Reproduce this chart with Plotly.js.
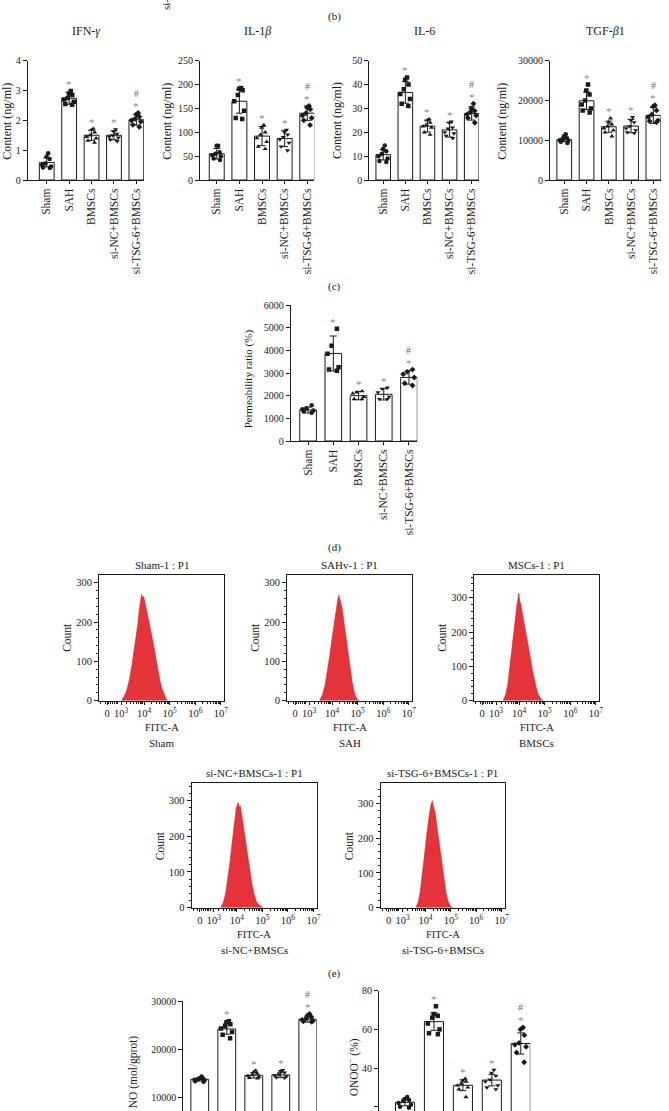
<!DOCTYPE html>
<html><head><meta charset="utf-8">
<script src="https://cdn.plot.ly/plotly-3.0.1.min.js"></script>
<style>html,body{margin:0;padding:0;background:#fff;} #chart{width:669px;height:1111px;}</style>
</head><body><div id="chart"></div>
<script>
// ---------------- DATA ----------------
const groups = ["Sham","SAH","BMSCs","si-NC+BMSCs","si-TSG-6+BMSCs"];
const sigStar = ["","*","*","*","*"];
const sigHash = ["","","","","#"];

// (c) cytokines
const ifnMean = [0.59, 2.74, 1.50, 1.50, 2.02];
const ifnSD   = [0.15, 0.20, 0.17, 0.15, 0.18];
const ifnPts  = [[0.90,0.78,0.70,0.55,0.50,0.45,0.42,0.40],
                 [2.98,2.90,2.85,2.75,2.70,2.62,2.55,2.52],
                 [1.72,1.68,1.60,1.50,1.45,1.40,1.32,1.25],
                 [1.70,1.62,1.55,1.50,1.45,1.42,1.35,1.30],
                 [2.25,2.20,2.12,2.05,2.00,1.95,1.85,1.78]];
const il1Mean = [55, 165, 92, 87, 140];
const il1SD   = [11, 25, 20, 17, 15];
const il1Pts  = [[72,72,58,55,52,50,45,42],
                 [193,191,188,178,165,145,130,128],
                 [115,110,100,95,88,80,70,65],
                 [105,100,95,90,85,78,70,62],
                 [155,152,148,140,135,130,125,115]];
const il6Mean = [10.6, 36.7, 22.6, 21.0, 27.9];
const il6SD   = [2.2, 4.5, 2.5, 3.0, 2.8];
const il6Pts  = [[14.5,13,12,11,10,9,8,7.5],
                 [43,42,40,38,36,34,32,31],
                 [25.5,25,24,23,22.5,22,20,19],
                 [24.5,24,22,21.5,20,19.5,18.5,17.5],
                 [32,30,29,28.5,27.5,27,26,24]];
const tgfMean = [10170, 19930, 13400, 13570, 16250];
const tgfSD   = [500, 2200, 1400, 1700, 2000];
const tgfPts  = [[11500,11000,10500,10200,10000,9800,9600,9300],
                 [24000,22500,21500,20000,19000,18000,17500,17000],
                 [15500,14500,14000,13500,13000,12500,12000,11000],
                 [15800,15000,14500,13500,13000,12500,12000,11800],
                 [18800,18500,17500,16500,15800,15000,14800,14500]];
// (d) permeability
const permMean = [1366, 3863, 2000, 2060, 2806];
const permSD   = [130, 770, 180, 250, 300];
const permPts  = [[1580,1450,1400,1350,1300,1250],
                  [4950,4200,3850,3250,3150,3100],
                  [2200,2150,2100,1950,1850,1850],
                  [2350,2300,2150,1950,1850,1850],
                  [3150,3050,2950,2800,2550,2450]];
// (f) NO / ONOO-
const noMean = [13800, 24220, 14640, 14700, 26230];
const noSD   = [350, 1100, 550, 550, 600];
const noPts  = [[14400,14000,13900,13800,13700,13600,13400,13300],
                [25800,25600,25200,24800,24300,23600,23000,22300],
                [15600,15300,15000,14700,14500,14300,14100,14000],
                [15700,15500,15200,14800,14600,14400,14200,14100],
                [27300,27000,26700,26400,26100,25900,25800,25700]];
const onooMean = [22.3, 64.0, 31.1, 33.8, 52.7];
const onooSD   = [1.8, 4.5, 2.8, 3.0, 5.5];
const onooPts  = [[25,24,23.5,23,22,21,20,19.5],
                  [72,68,67,66,63,60,58,57.5],
                  [34.5,33.5,33,32,31,30,29,25],
                  [39,37.5,36,34,33,31,30,29],
                  [61,60,57,53,52,51,48,43]];

// (e) flow cytometry histograms (x = FITC-A decade position, y = count)
const shamX = [3.12,3.22,3.32,3.42,3.52,3.60,3.68,3.75,3.81,3.86,3.90,3.94,3.98,4.03,4.08,4.14,4.20,4.27,4.34,4.41,4.48,4.55,4.62,4.70,4.78,4.86,4.92];
const shamC = [2,10,26,52,88,122,158,192,230,258,270,262,265,250,234,216,198,178,156,128,100,74,50,30,15,5,0];
const sahX  = [3.52,3.62,3.72,3.82,3.91,3.99,4.06,4.12,4.17,4.22,4.26,4.29,4.33,4.38,4.44,4.50,4.57,4.64,4.71,4.78,4.85,4.92,5.00,5.06];
const sahC  = [2,14,38,74,115,155,190,215,238,256,268,262,252,238,210,180,146,110,78,48,26,10,3,0];
const mscX  = [3.38,3.47,3.56,3.64,3.72,3.79,3.86,3.91,3.95,3.99,4.02,4.06,4.10,4.15,4.20,4.26,4.32,4.38,4.45,4.52,4.60,4.68,4.76,4.85,4.95];
const mscC  = [2,16,48,95,145,195,242,276,300,313,290,282,265,245,220,200,182,155,120,88,58,34,16,5,0];
const sincX = [3.38,3.47,3.56,3.64,3.72,3.80,3.87,3.93,3.98,4.02,4.05,4.09,4.13,4.18,4.24,4.30,4.37,4.44,4.52,4.60,4.68,4.76,4.85,4.95,5.03];
const sincC = [2,14,38,75,120,170,218,256,280,288,294,280,285,264,234,200,165,128,92,62,36,18,8,3,0];
const sitsgX = [3.63,3.72,3.80,3.88,3.96,4.03,4.10,4.15,4.20,4.24,4.27,4.30,4.34,4.39,4.45,4.52,4.59,4.66,4.73,4.81,4.89,4.97,5.07];
const sitsgC = [2,16,48,94,145,195,238,270,290,300,307,295,286,268,234,194,154,112,74,42,18,6,0];
const fitcTickVals = [2.55, 3.1, 4, 5, 6, 7];
const fitcTickText = ["0","10<sup>3</sup>","10<sup>4</sup>","10<sup>5</sup>","10<sup>6</sup>","10<sup>7</sup>"];

// ---------------- DRAWING ----------------
const W = 669, H = 1111;
const px = x => x / W, py = y => 1 - y / H;
const FONT = "Liberation Serif, 'Times New Roman', serif";
const INK = "#1a1a1a";
const symbols = ["circle","square","triangle-up","triangle-down","diamond"];
const data = [];
const layout = {
  width: W, height: H, margin: {l:0, r:0, t:0, b:0}, showlegend: false,
  paper_bgcolor: "#fff", plot_bgcolor: "rgba(0,0,0,0)",
  font: {family: FONT, size: 10, color: INK},
  annotations: [], boxmode: "overlay"
};
let n = 0;
function ann(o){
  layout.annotations.push(Object.assign({showarrow:false, xanchor:"center", yanchor:"middle",
    font:{family:FONT, size:11, color:INK}}, o));
}

function barPanel(cfg, means, sds, pts){
  n++;
  const s = n === 1 ? "" : String(n);
  const xa = "x"+s, ya = "y"+s;
  data.push({type:"bar", x:groups, y:means, xaxis:xa, yaxis:ya, width:0.66,
    marker:{color:"#fff", line:{color:INK, width:1}},
    error_y:{type:"data", array:sds, color:INK, thickness:1, width:3.5}, hoverinfo:"skip"});
  pts.forEach((p,i) => {
    data.push({type:"box", x:p.map(() => groups[i]), y:p, xaxis:xa, yaxis:ya,
      boxpoints:"all", jitter:0.9, pointpos:0, width:0.6,
      fillcolor:"rgba(0,0,0,0)", line:{width:0, color:"rgba(0,0,0,0)"},
      marker:{symbol:symbols[i], size:4.5, color:INK}, hoverinfo:"skip"});
  });
  layout["xaxis"+s] = {domain:[px(cfg.x0), px(cfg.x1)], anchor:ya, type:"category", range:cfg.xr,
    showline:true, linecolor:INK, linewidth:1, ticks:"outside", ticklen:3, tickcolor:INK,
    tickangle:-90, tickfont:{size:11.5}, showgrid:false, zeroline:false, fixedrange:true,
    showticklabels: cfg.xlabels !== false};
  layout["yaxis"+s] = {domain:[py(cfg.bottom), py(cfg.top)], anchor:xa, range:cfg.yr,
    tick0:0, dtick:cfg.dtick, tickformat:"d", exponentformat:"none", separatethousands:false,
    showline:true, linecolor:INK, linewidth:1, ticks:"outside",
    ticklen:4, tickcolor:INK, showgrid:false, zeroline:false, tickfont:{size:10}, fixedrange:true};
  groups.forEach((g,i) => {
    const top = Math.max(means[i] + sds[i], Math.max(...pts[i]));
    if (sigStar[i]) ann({xref:xa, yref:ya, x:g, y:top, yanchor:"bottom", yshift:-1, text:sigStar[i], font:{family:FONT, size:11, color:"#8a8a8a"}});
    if (sigHash[i]) ann({xref:xa, yref:ya, x:g, y:top, yanchor:"bottom", yshift:12, text:sigHash[i], font:{family:FONT, size:10, color:"#666"}});
  });
  if (cfg.title) ann({xref:"paper", yref:"paper", x:px((cfg.x0+cfg.x1)/2), y:py(cfg.titleY), text:cfg.title, font:{family:FONT, size:12, color:INK}});
  ann({xref:"paper", yref:"paper", x:px(cfg.ytX), y:py(cfg.ytY), text:cfg.ytitle, textangle:-90, font:{family:FONT, size:cfg.ytSize || 12, color:INK}});
}

const minorX = [];
for (let d = 2; d < 7; d++) for (let k = 2; k < 10; k++) { const v = d + Math.log10(k); if (v > 2.24 && v < 7.13) minorX.push(v); }

function histPanel(cfg, xs, cs){
  n++;
  const s = String(n);
  const xa = "x"+s, ya = "y"+s;
  data.push({type:"scatter", mode:"lines", x:xs, y:cs, xaxis:xa, yaxis:ya, fill:"tozeroy",
    fillcolor:"rgb(228,52,58)", line:{color:"rgb(206,30,38)", width:0.6}, hoverinfo:"skip"});
  layout["xaxis"+s] = {domain:[px(cfg.x0), px(cfg.x1)], anchor:ya, range:[2.235, 7.137],
    tickmode:"array", tickvals:fitcTickVals, ticktext:fitcTickText, tickangle:0,
    showline:true, mirror:true, linecolor:INK, linewidth:1, ticks:"outside", ticklen:3, tickcolor:INK,
    minor:{tickmode:"array", tickvals:minorX, ticks:"outside", ticklen:2, tickcolor:INK},
    showgrid:false, zeroline:false, tickfont:{size:10.5}, fixedrange:true};
  layout["yaxis"+s] = {domain:[py(cfg.bottom), py(cfg.top)], anchor:xa, range:[0, cfg.ymax],
    tick0:0, dtick:100, showline:true, mirror:true, linecolor:INK, linewidth:1,
    ticks:"outside", ticklen:4, tickcolor:INK,
    minor:{dtick:20, ticks:"outside", ticklen:2, tickcolor:INK},
    showgrid:false, zeroline:false, tickfont:{size:10.5}, fixedrange:true};
  const cx = px((cfg.x0+cfg.x1)/2);
  ann({xref:"paper", yref:"paper", x:cx, y:py(cfg.top-10), text:cfg.title});
  ann({xref:"paper", yref:"paper", x:px(cfg.x0-32), y:py((cfg.top+cfg.bottom)/2), text:"Count", textangle:-90, font:{family:FONT, size:11.5, color:INK}});
  ann({xref:"paper", yref:"paper", x:cx, y:py(cfg.bottom+26.5), text:"FITC-A", font:{family:FONT, size:10.5, color:INK}});
  ann({xref:"paper", yref:"paper", x:cx, y:py(cfg.bottom+42.5), text:cfg.group});
}

// panel (c)
barPanel({x0:27.7, x1:144, top:60.7, bottom:180, xr:[-0.85,4.34], yr:[0,4], dtick:1, title:"IFN-<i>γ</i>", titleY:31, ytitle:"Content (ng/ml)", ytX:6.7, ytY:121}, ifnMean, ifnSD, ifnPts);
barPanel({x0:200, x1:314.3, top:60.7, bottom:180, xr:[-0.74,4.31], yr:[0,250], dtick:50, title:"IL-1<i>β</i>", titleY:31, ytitle:"Content (ng/ml)", ytX:166.7, ytY:121}, il1Mean, il1SD, il1Pts);
barPanel({x0:369.3, x1:479, top:60.7, bottom:180, xr:[-0.63,4.33], yr:[0,50], dtick:10, title:"IL-6", titleY:31, ytitle:"Content (ng/ml)", ytX:337, ytY:121}, il6Mean, il6SD, il6Pts);
barPanel({x0:550, x1:660.7, top:60.7, bottom:180, xr:[-0.64,4.33], yr:[0,30000], dtick:10000, title:"TGF-<i>β</i>1", titleY:31, ytitle:"Content (ng/ml)", ytX:501.7, ytY:121}, tgfMean, tgfSD, tgfPts);
// panel (d)
barPanel({x0:290.7, x1:417.3, top:305, bottom:441, xr:[-0.69,4.33], yr:[0,6000], dtick:1000, ytitle:"Permeability ratio (%)", ytSize:11, ytX:248.3, ytY:379}, permMean, permSD, permPts);
// panel (f) (cut at bottom of the page)
barPanel({x0:183.3, x1:316.7, top:1001, bottom:1111, xr:[-0.61,4.33], yr:[7246,30000], dtick:10000, xlabels:false, ytitle:"NO (mol/gprot)", ytSize:11.5, ytX:133.3, ytY:1072}, noMean, noSD, noPts);
barPanel({x0:379, x1:530.3, top:990.7, bottom:1111, xr:[-0.9,4.33], yr:[17.8,80], dtick:20, xlabels:false, ytitle:"ONOO<sup>−</sup> (%)", ytSize:11.5, ytX:353.3, ytY:1067}, onooMean, onooSD, onooPts);

// panel (e)
histPanel({x0:99, x1:224.3, top:575, bottom:700.7, ymax:319.5, title:"Sham-1 : P1", group:"Sham"}, shamX, shamC);
histPanel({x0:287, x1:412.3, top:575, bottom:700.7, ymax:319.5, title:"SAHv-1 : P1", group:"SAH"}, sahX, sahC);
histPanel({x0:474, x1:599.3, top:575, bottom:700.7, ymax:366, title:"MSCs-1 : P1", group:"BMSCs"}, mscX, mscC);
histPanel({x0:191.7, x1:317, top:783.3, bottom:907.7, ymax:348, title:"si-NC+BMSCs-1 : P1", group:"si-NC+BMSCs"}, sincX, sincC);
histPanel({x0:380.7, x1:505, top:783.3, bottom:907.7, ymax:357, title:"si-TSG-6+BMSCs-1 : P1", group:"si-TSG-6+BMSCs"}, sitsgX, sitsgC);

// panel letters and cut-off label of panel (b)
ann({xref:"paper", yref:"paper", x:px(334.5), y:py(16), text:"(b)"});
ann({xref:"paper", yref:"paper", x:px(334.5), y:py(287), text:"(c)"});
ann({xref:"paper", yref:"paper", x:px(334.5), y:py(547), text:"(d)"});
ann({xref:"paper", yref:"paper", x:px(334.5), y:py(973), text:"(e)"});
ann({xref:"paper", yref:"paper", x:px(166), y:py(12), yanchor:"bottom", text:"si-TSG-6+BMSCs", textangle:-90, font:{family:FONT, size:11, color:INK}});

Plotly.newPlot("chart", data, layout, {staticPlot:true, displayModeBar:false});
</script>
</body></html>
